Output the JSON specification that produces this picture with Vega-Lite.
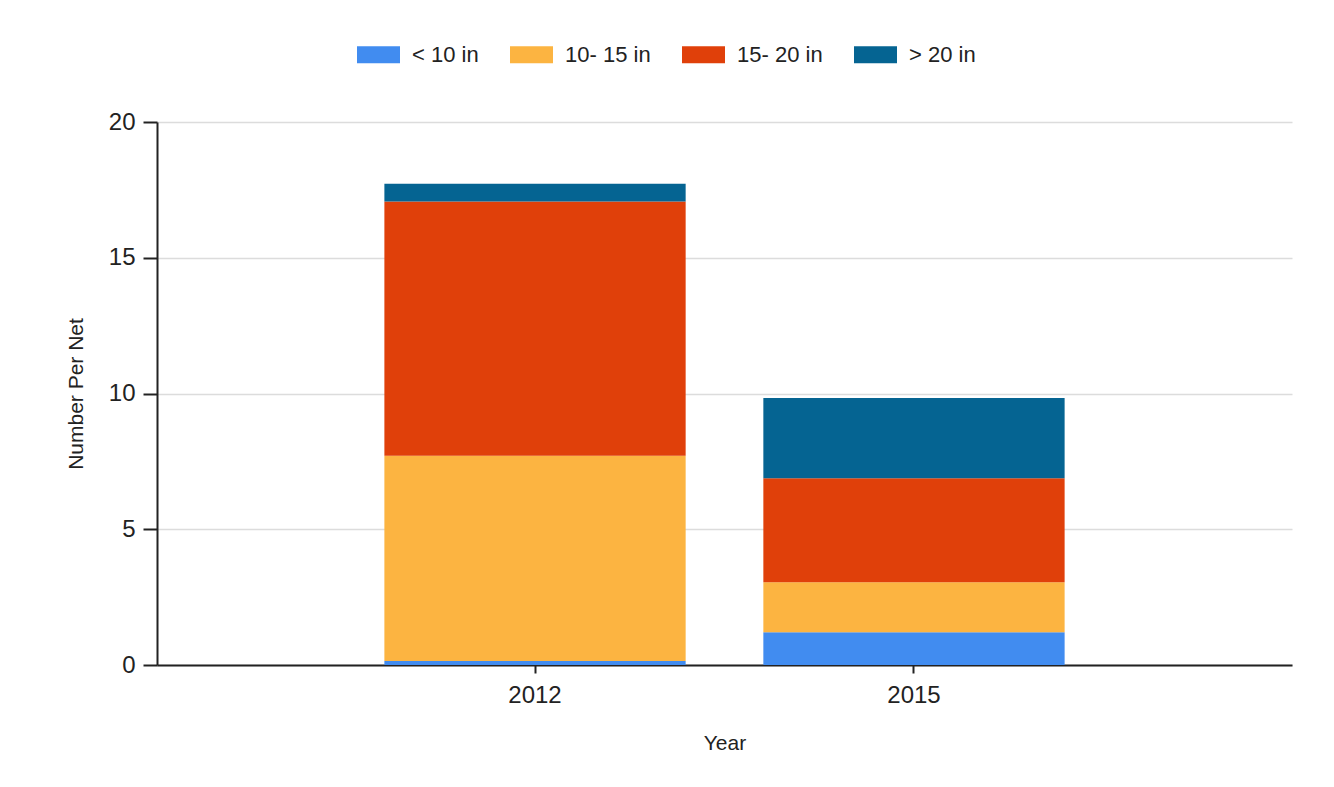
{
  "$schema": "https://vega.github.io/schema/vega-lite/v6.json",
  "width": 1135,
  "height": 543,
  "autosize": {"type": "none"},
  "padding": {"left": 157, "top": 122, "right": 42, "bottom": 122},
  "background": "white",
  "data": {
    "values": [
      {"Year": "2012", "Size": "< 10 in", "k": 1, "Value": 0.15},
      {"Year": "2012", "Size": "10- 15 in", "k": 2, "Value": 7.56},
      {"Year": "2012", "Size": "15- 20 in", "k": 3, "Value": 9.36},
      {"Year": "2012", "Size": "> 20 in", "k": 4, "Value": 0.66},
      {"Year": "2015", "Size": "< 10 in", "k": 1, "Value": 1.21},
      {"Year": "2015", "Size": "10- 15 in", "k": 2, "Value": 1.84},
      {"Year": "2015", "Size": "15- 20 in", "k": 3, "Value": 3.83},
      {"Year": "2015", "Size": "> 20 in", "k": 4, "Value": 2.95}
    ]
  },
  "mark": {"type": "bar", "strokeWidth": 0},
  "encoding": {
    "x": {
      "field": "Year",
      "type": "nominal",
      "scale": {"paddingInner": 0.205, "paddingOuter": 0.6},
      "axis": {
        "title": "Year",
        "labelAngle": 0,
        "labelFontSize": 24,
        "labelPadding": 10,
        "tickSize": 8,
        "titleFontSize": 21,
        "titlePadding": 25
      }
    },
    "y": {
      "field": "Value",
      "type": "quantitative",
      "stack": "zero",
      "scale": {"domain": [0, 20], "nice": false},
      "axis": {
        "title": "Number Per Net",
        "values": [0, 5, 10, 15, 20],
        "labelFontSize": 24,
        "labelPadding": 8,
        "tickSize": 14,
        "titleFontSize": 21,
        "titlePadding": 22,
        "grid": true
      }
    },
    "color": {
      "field": "Size",
      "type": "nominal",
      "sort": ["< 10 in", "10- 15 in", "15- 20 in", "> 20 in"],
      "scale": {
        "domain": ["< 10 in", "10- 15 in", "15- 20 in", "> 20 in"],
        "range": ["#418CF0", "#FCB441", "#E0400A", "#056492"]
      },
      "legend": {
        "orient": "none",
        "legendX": 200,
        "legendY": -89,
        "direction": "horizontal",
        "title": null,
        "symbolType": "M-1,-0.4H1V0.4H-1Z",
        "symbolSize": 1849,
        "symbolStrokeWidth": 0,
        "symbolOpacity": 1,
        "labelFontSize": 22,
        "labelOffset": 12,
        "columnPadding": 31
      }
    },
    "order": {"field": "k", "type": "quantitative", "sort": "ascending"}
  },
  "config": {
    "font": "Liberation Sans",
    "view": {"stroke": null},
    "axis": {
      "domainColor": "#222222",
      "domainWidth": 2,
      "tickColor": "#222222",
      "tickWidth": 2,
      "labelColor": "#222222",
      "titleColor": "#222222",
      "titleFontWeight": "normal",
      "gridColor": "#dcdcdc",
      "gridWidth": 1.5
    },
    "axisX": {"grid": false},
    "legend": {"labelColor": "#222222"}
  }
}
